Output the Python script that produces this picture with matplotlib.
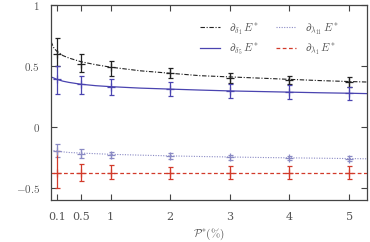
import numpy as np
import matplotlib
matplotlib.use("Agg")
import matplotlib.pyplot as plt

plt.rcParams['font.family'] = 'serif'
plt.rcParams['font.serif'] = ['DejaVu Serif']
plt.rcParams['mathtext.fontset'] = 'cm'

# measured points (P* in %)
x_pts = [0.1, 0.5, 1, 2, 3, 4, 5]

d1_y = [0.60, 0.52, 0.49, 0.44, 0.40, 0.385, 0.37]
d1_lo = [0.50, 0.45, 0.42, 0.40, 0.36, 0.35, 0.33]
d1_hi = [0.73, 0.595, 0.54, 0.48, 0.44, 0.42, 0.41]

d5_y = [0.39, 0.35, 0.325, 0.31, 0.295, 0.285, 0.275]
d5_lo = [0.27, 0.27, 0.26, 0.25, 0.24, 0.23, 0.22]
d5_hi = [0.50, 0.42, 0.39, 0.37, 0.35, 0.34, 0.33]

l11_y = [-0.20, -0.22, -0.23, -0.24, -0.25, -0.255, -0.26]
l11_lo = [-0.25, -0.255, -0.255, -0.265, -0.27, -0.275, -0.28]
l11_hi = [-0.14, -0.18, -0.205, -0.215, -0.23, -0.235, -0.24]

l1_y = [-0.38, -0.375, -0.375, -0.375, -0.375, -0.375, -0.38]
l1_lo = [-0.50, -0.445, -0.43, -0.43, -0.43, -0.43, -0.43]
l1_hi = [-0.20, -0.305, -0.315, -0.33, -0.325, -0.325, -0.325]

# fitted curves
x_fit = [0.0, 0.05, 0.1, 0.2, 0.3, 0.5, 0.75, 1, 1.5, 2, 2.5, 3, 3.5, 4, 4.5, 5, 5.3]
d1_fit = [0.70, 0.645, 0.62, 0.585, 0.565, 0.535, 0.51, 0.49, 0.46, 0.44, 0.42, 0.41, 0.40, 0.39, 0.38, 0.372, 0.368]
d5_fit = [0.41, 0.40, 0.39, 0.375, 0.365, 0.35, 0.338, 0.33, 0.318, 0.31, 0.302, 0.295, 0.29, 0.285, 0.28, 0.276, 0.273]
l11_fit = [-0.19, -0.195, -0.20, -0.205, -0.21, -0.215, -0.22, -0.225, -0.232, -0.238, -0.243, -0.247, -0.251, -0.254, -0.257, -0.26, -0.262]
l1_fit = [-0.38] * len(x_fit)

c_d1 = '#222222'
c_d5 = '#4a44b0'
c_l11 = '#8a8ac4'
c_l1 = '#d23a2a'
c_txt = '#555555'

fig = plt.figure(figsize=(3.7, 2.42), dpi=100)
ax = fig.add_axes([51 / 370, 1 - 200 / 242, 316 / 370, 195 / 242])

ax.plot(x_fit, d1_fit, color=c_d1, lw=0.8, ls=(0, (4, 1.5, 1, 1.5)), label=r'$\partial_{\delta_1}\,E^{*}$')
ax.plot(x_fit, d5_fit, color=c_d5, lw=0.9, ls='-', label=r'$\partial_{\delta_5}\,E^{*}$')
ax.plot(x_fit, l11_fit, color=c_l11, lw=0.8, ls=(0, (1, 1.3)), label=r'$\partial_{\lambda_{11}}\,E^{*}$')
ax.plot(x_fit, l1_fit, color=c_l1, lw=0.9, ls=(0, (3, 2)), label=r'$\partial_{\lambda_1}\,E^{*}$')

for y, lo, hi, c in [(d1_y, d1_lo, d1_hi, c_d1), (d5_y, d5_lo, d5_hi, c_d5),
                     (l11_y, l11_lo, l11_hi, c_l11), (l1_y, l1_lo, l1_hi, c_l1)]:
    y = np.array(y)
    err = [y - np.array(lo), np.array(hi) - y]
    ax.errorbar(x_pts, y, yerr=err, fmt='+', color=c, ms=6, mew=0.9,
                elinewidth=0.9, capsize=1.8, capthick=0.9)

ax.set_xlim(0, 5.3)
ax.set_ylim(-0.6, 1)
ax.set_xticks(x_pts)
ax.set_xticklabels(['0.1', '0.5', '1', '2', '3', '4', '5'])
ax.set_yticks([-0.5, 0, 0.5, 1])
ax.set_yticklabels([r'$-0.5$', r'$0$', r'$0.5$', r'$1$'])
ax.tick_params(direction='in', top=True, right=True, length=4, width=0.8,
               labelsize=8, labelcolor=c_txt, color='#444444')
ax.tick_params(axis='x', pad=9)
ax.tick_params(axis='y', pad=8)
for s in ax.spines.values():
    s.set_color('#444444')
    s.set_linewidth(0.9)

ax.set_xlabel(r'$\mathcal{P}^{*}(\%)$', fontsize=8, color=c_txt, labelpad=3)

ax.legend(ncol=2, loc='upper right', frameon=False, fontsize=8, handlelength=1.8,
          handletextpad=0.8, columnspacing=1.5, labelspacing=0.45,
          bbox_to_anchor=(0.94, 0.97), labelcolor=c_txt)

fig.savefig('out.png', dpi=100)
